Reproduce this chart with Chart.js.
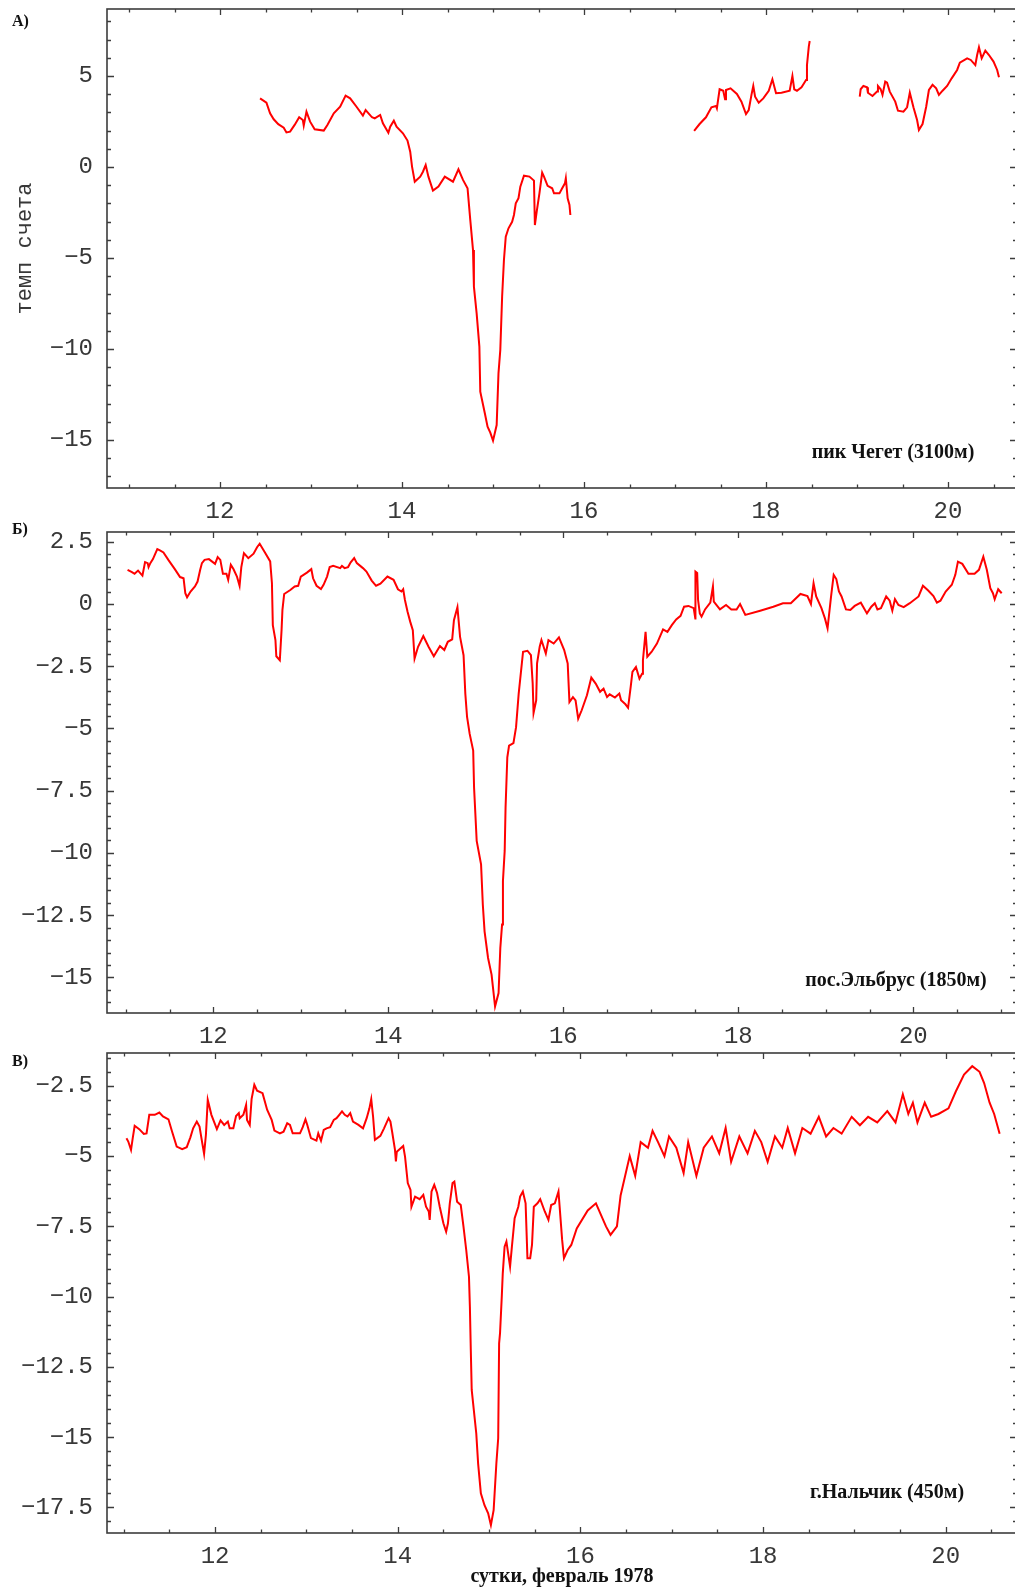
<!DOCTYPE html>
<html>
<head>
<meta charset="utf-8">
<title>Нейтронные мониторы, февраль 1978</title>
<script src="https://cdn.jsdelivr.net/npm/chart.js@4.4.1/dist/chart.umd.min.js"></script>
<style>
  html, body { margin: 0; padding: 0; overflow: hidden; background: #fff; }
  #wrap { position: relative; width: 1015px; height: 1589px; overflow: hidden; }
  canvas { position: absolute; left: 0; top: 0; }
</style>
</head>
<body>
<div id="wrap">
  <canvas id="chartA" width="1030" height="1589"></canvas>
  <canvas id="chartB" width="1030" height="1589"></canvas>
  <canvas id="chartC" width="1030" height="1589"></canvas>
</div>
<script>
// ---- data (day of February 1978, count rate variation %) ----
// A) пик Чегет, three pieces with gaps
var aDay1 = [12.44,12.51,12.55,12.59,12.64,12.70,12.73,12.77,12.82,12.87,12.91,12.92,12.95,12.99,13.04,13.14,13.18,13.25,13.32,13.38,13.43,13.50,13.57,13.60,13.67,13.70,13.76,13.79,13.85,13.87,13.91,13.94,14.01,14.06,14.09,14.11,14.14,14.20,14.23,14.26,14.29,14.34,14.40,14.47,14.56,14.62,14.67,14.72,14.75,14.78,14.79,14.82,14.85,14.86,14.91,14.94,14.97,15.00,15.04,15.06,15.08,15.10,15.12,15.14,15.17,15.21,15.23,15.25,15.28,15.30,15.34,15.40,15.45,15.46,15.48,15.51,15.54,15.56,15.60,15.65,15.67,15.73,15.76,15.79,15.80,15.82,15.84,15.85];
var aVal1 = [3.77,3.53,2.95,2.62,2.35,2.16,1.90,1.94,2.31,2.73,2.58,2.27,3.04,2.49,2.07,2.00,2.31,2.95,3.31,3.92,3.77,3.31,2.82,3.13,2.73,2.67,2.86,2.40,1.88,2.21,2.54,2.21,1.85,1.45,0.84,0.02,-0.81,-0.53,-0.26,0.11,-0.53,-1.30,-1.08,-0.53,-0.81,-0.13,-0.71,-1.17,-2.91,-4.56,-6.58,-8.04,-9.87,-12.35,-13.53,-14.27,-14.60,-15.04,-14.18,-11.34,-10.05,-7.13,-5.11,-3.83,-3.37,-3.01,-2.64,-2.00,-1.72,-1.08,-0.48,-0.53,-0.75,-3.19,-2.45,-1.45,-0.31,-0.53,-1.04,-1.17,-1.45,-1.45,-1.17,-0.90,-0.62,-1.72,-2.09,-2.64];
var aDay2 = [17.21,17.27,17.34,17.40,17.45,17.46,17.49,17.53,17.55,17.56,17.61,17.68,17.73,17.78,17.81,17.84,17.86,17.88,17.92,17.97,18.03,18.07,18.11,18.17,18.26,18.29,18.31,18.34,18.39,18.44,18.45,18.47,18.48];
var aVal2 = [1.98,2.36,2.73,3.28,3.35,3.22,4.27,4.19,3.72,4.23,4.32,4.01,3.59,2.91,3.13,3.96,4.45,3.86,3.53,3.77,4.19,4.82,4.05,4.08,4.19,5.00,4.27,4.19,4.38,4.78,5.60,6.61,6.92];
var aDay3 = [19.03,19.04,19.07,19.11,19.12,19.17,19.22,19.23,19.26,19.28,19.31,19.33,19.36,19.42,19.45,19.51,19.55,19.58,19.62,19.66,19.68,19.72,19.76,19.79,19.83,19.87,19.90,19.94,19.99,20.04,20.10,20.13,20.21,20.25,20.30,20.32,20.34,20.37,20.41,20.45,20.50,20.54,20.56];
var aVal3 = [3.86,4.27,4.45,4.38,4.08,3.90,4.14,4.45,4.27,3.96,4.69,4.63,4.14,3.59,3.09,3.04,3.28,4.08,3.28,2.58,2.03,2.36,3.31,4.23,4.51,4.32,3.96,4.19,4.45,4.87,5.33,5.73,5.97,5.88,5.60,6.15,6.58,5.97,6.39,6.15,5.79,5.33,4.93];

// Б) пос.Эльбрус
var bDay = [11.02,11.07,11.10,11.14,11.19,11.22,11.25,11.26,11.28,11.31,11.36,11.39,11.43,11.49,11.56,11.62,11.66,11.68,11.70,11.74,11.79,11.82,11.85,11.87,11.90,11.95,12.02,12.05,12.08,12.11,12.15,12.17,12.20,12.23,12.27,12.30,12.32,12.35,12.40,12.46,12.50,12.53,12.59,12.65,12.67,12.68,12.71,12.72,12.76,12.78,12.79,12.81,12.88,12.93,12.97,13.00,13.07,13.12,13.14,13.18,13.23,13.26,13.30,13.33,13.37,13.45,13.47,13.50,13.54,13.57,13.61,13.64,13.71,13.75,13.81,13.86,13.91,13.99,14.06,14.11,14.15,14.17,14.19,14.22,14.25,14.28,14.30,14.34,14.40,14.46,14.52,14.59,14.64,14.68,14.73,14.75,14.79,14.82,14.86,14.88,14.90,14.93,14.97,14.98,15.01,15.06,15.08,15.10,15.14,15.18,15.22,15.26,15.28,15.30,15.31,15.33,15.34,15.36,15.38,15.43,15.46,15.49,15.51,15.54,15.59,15.63,15.65,15.66,15.69,15.70,15.73,15.75,15.80,15.83,15.89,15.95,
  16.01,16.05,16.07,16.11,16.14,16.17,16.21,16.27,16.32,16.37,16.42,16.46,16.50,16.53,16.59,16.64,16.66,16.71,16.74,16.77,16.79,16.83,16.87,16.90,16.91,16.94,16.96,17.01,17.07,17.14,17.19,17.24,17.29,17.34,17.38,17.43,17.49,17.51,17.51,17.53,17.54,17.56,17.58,17.62,17.68,17.71,17.72,17.79,17.86,17.92,17.98,18.02,18.08,18.25,18.40,18.51,18.60,18.71,18.79,18.83,18.86,18.89,18.95,18.99,19.02,19.06,19.09,19.12,19.15,19.18,19.23,19.28,19.33,19.40,19.47,19.52,19.56,19.59,19.63,19.69,19.73,19.76,19.79,19.83,19.89,19.96,20.06,20.11,20.17,20.23,20.27,20.31,20.37,20.44,20.48,20.51,20.56,20.63,20.70,20.75,20.80,20.84,20.88,20.91,20.93,20.97,21.01];
var bVal = [1.37,1.28,1.21,1.34,1.14,1.68,1.64,1.48,1.64,1.80,2.20,2.15,2.07,1.75,1.40,1.08,1.03,0.43,0.27,0.50,0.70,0.90,1.37,1.64,1.77,1.80,1.61,1.88,1.77,1.21,1.21,0.97,1.57,1.40,1.10,0.73,1.48,2.04,1.84,2.02,2.28,2.42,2.07,1.71,0.83,-0.85,-1.45,-2.10,-2.26,-1.05,-0.24,0.40,0.56,0.70,0.73,1.10,1.26,1.40,1.03,0.73,0.60,0.77,1.10,1.48,1.53,1.44,1.53,1.44,1.48,1.67,1.84,1.64,1.44,1.30,0.94,0.73,0.81,1.10,0.97,0.59,0.50,0.59,0.16,-0.31,-0.71,-1.05,-2.19,-1.72,-1.29,-1.72,-2.10,-1.69,-1.85,-1.52,-1.42,-0.65,-0.13,-1.32,-2.06,-3.60,-4.54,-5.22,-5.89,-7.37,-9.52,-10.46,-12.07,-13.15,-14.22,-14.89,-16.17,-15.63,-13.82,-12.88,-11.13,-9.92,-8.17,-6.16,-5.69,-5.59,-4.95,-3.60,-2.93,-1.92,-1.88,-2.06,-3.20,-4.38,-3.87,-2.39,-1.72,-1.45,-1.99,-1.45,-1.59,-1.34,
  -1.85,-2.39,-3.94,-3.74,-3.87,-4.61,-4.27,-3.67,-2.96,-3.20,-3.53,-3.40,-3.74,-3.63,-3.76,-3.60,-3.87,-4.03,-4.17,-3.33,-2.73,-2.53,-3.00,-2.80,-2.26,-1.12,-2.12,-1.92,-1.59,-1.02,-1.12,-0.85,-0.62,-0.48,-0.11,-0.08,-0.17,-0.62,1.30,1.24,0.16,-0.38,-0.51,-0.22,0.05,0.70,0.09,-0.22,-0.04,-0.22,-0.22,0.00,-0.44,-0.27,-0.11,0.03,0.03,0.40,0.32,0.00,0.83,0.30,-0.17,-0.58,-0.98,0.30,1.17,1.00,0.50,0.30,-0.22,-0.24,-0.08,0.05,-0.38,-0.11,0.03,-0.22,-0.17,0.30,0.13,-0.27,0.19,-0.04,-0.13,0.03,0.30,0.73,0.54,0.32,0.05,0.13,0.50,0.77,1.17,1.70,1.61,1.21,1.21,1.37,1.90,1.37,0.63,0.43,0.19,0.59,0.43];

// В) г.Нальчик
var cDay = [11.03,11.05,11.08,11.10,11.12,11.17,11.22,11.25,11.28,11.34,11.39,11.43,11.49,11.53,11.58,11.64,11.69,11.73,11.76,11.80,11.83,11.86,11.88,11.90,11.92,11.96,12.02,12.06,12.10,12.14,12.16,12.20,12.23,12.26,12.27,12.31,12.34,12.35,12.38,12.40,12.43,12.46,12.52,12.57,12.62,12.65,12.71,12.75,12.79,12.82,12.85,12.93,12.96,12.99,13.01,13.05,13.11,13.13,13.16,13.19,13.22,13.26,13.30,13.33,13.36,13.39,13.42,13.45,13.48,13.51,13.57,13.62,13.66,13.69,13.71,13.73,13.75,13.81,13.85,13.90,13.92,13.94,13.97,13.98,13.99,14.06,14.08,14.11,14.14,14.15,14.19,14.24,14.28,14.31,14.34,14.35,14.37,14.40,14.43,14.46,14.50,14.53,14.55,14.57,14.60,14.62,14.65,14.69,14.72,14.75,14.78,14.79,14.80,14.81,14.86,14.88,14.91,14.95,14.99,15.02,15.05,15.08,15.10,15.11,15.12,15.14,15.15,15.17,15.19,15.23,15.25,15.28,15.32,15.34,15.37,15.40,15.42,15.45,15.47,15.49,15.53,15.56,15.61,15.65,15.68,15.72,15.76,15.80,15.82,15.86,15.90,15.96,
  16.08,16.17,16.28,16.33,16.40,16.44,16.49,16.54,16.60,16.66,16.74,16.79,16.85,16.92,16.97,17.05,17.13,17.18,17.27,17.35,17.44,17.52,17.59,17.65,17.74,17.83,17.91,17.98,18.05,18.13,18.21,18.27,18.35,18.43,18.52,18.61,18.69,18.77,18.86,18.97,19.06,19.15,19.25,19.36,19.45,19.53,19.59,19.64,19.69,19.77,19.84,19.92,20.03,20.11,20.20,20.29,20.37,20.42,20.48,20.53,20.59];
var cVal = [-4.36,-4.48,-4.78,-4.33,-3.92,-4.04,-4.21,-4.19,-3.53,-3.53,-3.45,-3.59,-3.69,-4.13,-4.66,-4.75,-4.68,-4.33,-4.01,-3.77,-3.95,-4.54,-4.92,-4.24,-3.00,-3.53,-4.04,-3.73,-3.89,-3.77,-4.01,-4.01,-3.57,-3.47,-3.65,-3.53,-3.18,-3.71,-3.89,-2.97,-2.46,-2.67,-2.76,-3.35,-3.71,-4.09,-4.19,-4.13,-3.83,-3.89,-4.19,-4.19,-3.97,-3.69,-3.89,-4.36,-4.45,-4.19,-4.45,-4.07,-4.01,-3.97,-3.71,-3.65,-3.53,-3.41,-3.53,-3.59,-3.47,-3.77,-3.89,-4.01,-3.65,-3.30,-2.97,-3.59,-4.42,-4.28,-4.01,-3.65,-3.77,-4.16,-4.78,-5.19,-4.84,-4.64,-5.02,-5.96,-6.20,-6.80,-6.44,-6.53,-6.38,-6.80,-6.97,-7.27,-6.26,-6.02,-6.30,-6.80,-7.39,-7.69,-7.39,-6.68,-5.96,-5.91,-6.62,-6.74,-7.51,-8.34,-9.29,-10.36,-11.90,-13.32,-14.87,-15.93,-17.00,-17.42,-17.71,-18.13,-17.60,-15.93,-15.04,-11.66,-11.30,-9.94,-9.17,-8.22,-8.04,-8.93,-8.22,-7.21,-6.80,-6.44,-6.26,-6.68,-8.63,-8.63,-8.16,-6.80,-6.68,-6.53,-6.97,-7.27,-6.74,-6.68,-6.26,-7.98,-8.63,-8.34,-8.16,-7.57,
  -6.93,-6.68,-7.5,-7.8,-7.5,-6.4,-5.7,-5.0,-5.7,-4.5,-4.7,-4.1,-4.5,-5.0,-4.3,-4.7,-5.6,-4.5,-5.7,-4.7,-4.3,-4.9,-4.0,-5.2,-4.3,-4.9,-4.1,-4.5,-5.2,-4.3,-4.7,-4.0,-4.9,-4.0,-4.2,-3.6,-4.3,-4.0,-4.2,-3.6,-3.9,-3.6,-3.8,-3.4,-3.8,-2.8,-3.5,-3.1,-3.8,-3.1,-3.6,-3.5,-3.3,-2.7,-2.1,-1.8,-2.0,-2.4,-3.1,-3.5,-4.2];

// tick labels
var xTickLabels = [12, 14, 16, 18, 20];
var aYTickLabels = [5, 0, -5, -10, -15];
var bYTickLabels = [2.5, 0, -2.5, -5, -7.5, -10, -12.5, -15];
var cYTickLabels = [-2.5, -5, -7.5, -10, -12.5, -15, -17.5];

// ---- helpers ----
var MONO = '"Liberation Mono", "DejaVu Sans Mono", monospace';
var SERIF = '"Liberation Serif", "DejaVu Serif", serif';

function pts(days, vals) {
  return days.map(function (d, i) { return {x: d, y: vals[i]}; });
}
function near(list, v) {
  for (var i = 0; i < list.length; i++) if (Math.abs(list[i] - v) < 1e-6) return list[i];
  return null;
}
function fmt(v) {
  return String(v).replace('-', '\u2212');
}
function stepTicks(scale, step) {
  var out = [];
  for (var k = Math.ceil(scale.min / step - 1e-9); k * step <= scale.max + 1e-9; k++) {
    out.push({value: +(k * step).toFixed(6)});
  }
  scale.ticks = out;
}

// frame with inward tick marks on all four sides
var frameTicks = {
  id: 'frameTicks',
  afterDraw: function (chart, args, opts) {
    var ctx = chart.ctx, a = chart.chartArea, sx = chart.scales.x, sy = chart.scales.y;
    ctx.save();
    ctx.strokeStyle = '#3c3c3c';
    ctx.lineWidth = 1.6;
    ctx.strokeRect(a.left, a.top, a.right - a.left, a.bottom - a.top);
    ctx.lineWidth = 1.3;
    ctx.beginPath();
    sx.ticks.forEach(function (t) {
      var x = Math.round(sx.getPixelForValue(t.value)) + 0.5;
      var len = near(opts.xMajor, t.value) !== null ? 6 : 3.5;
      ctx.moveTo(x, a.bottom); ctx.lineTo(x, a.bottom - len);
      ctx.moveTo(x, a.top); ctx.lineTo(x, a.top + len);
    });
    sy.ticks.forEach(function (t) {
      var y = Math.round(sy.getPixelForValue(t.value)) + 0.5;
      var len = near(opts.yMajor, t.value) !== null ? 7 : 4;
      ctx.moveTo(a.left, y); ctx.lineTo(a.left + len, y);
      ctx.moveTo(a.right, y); ctx.lineTo(a.right - len, y);
    });
    ctx.stroke();
    ctx.restore();
  }
};

// panel letters and station names
var notes = {
  id: 'notes',
  afterDraw: function (chart, args, opts) {
    var ctx = chart.ctx;
    ctx.save();
    ctx.fillStyle = '#111';
    ctx.textBaseline = 'middle';
    (opts.items || []).forEach(function (it) {
      ctx.font = it.font;
      ctx.textAlign = it.align;
      ctx.fillText(it.text, it.x, it.y);
    });
    ctx.restore();
  }
};

function makePanel(id, p) {
  var datasets = p.series.map(function (s) {
    return {
      data: s,
      borderColor: '#ff0000',
      borderWidth: 2,
      pointRadius: 0,
      tension: 0,
      fill: false
    };
  });
  return new Chart(document.getElementById(id), {
    type: 'line',
    data: {datasets: datasets},
    plugins: [frameTicks, notes],
    options: {
      responsive: false,
      animation: false,
      devicePixelRatio: 1,
      layout: {padding: {top: p.top, right: 13, bottom: 0, left: 0}},
      plugins: {
        legend: {display: false},
        tooltip: {enabled: false},
        frameTicks: {xMajor: xTickLabels, yMajor: p.yLabels},
        notes: {items: p.notes}
      },
      scales: {
        x: {
          type: 'linear',
          bounds: 'data',
          min: p.xMin, max: p.xMax,
          grid: {display: false, drawTicks: false},
          border: {display: false},
          afterBuildTicks: function (s) { stepTicks(s, 0.5); },
          afterFit: function (s) {
            s.height = 1589 - p.bottom;
            s.paddingLeft = 0; s.paddingRight = 0;
          },
          ticks: {
            autoSkip: false, maxRotation: 0, padding: 9,
            color: '#383838', font: {family: MONO, size: 24},
            callback: function (v) { var l = near(xTickLabels, v); return l === null ? '' : fmt(l); }
          },
          title: p.xTitle ? {
            display: true, text: p.xTitle, color: '#111',
            font: {family: SERIF, size: 20, weight: 'bold'},
            padding: {top: 0, bottom: 0}
          } : {display: false}
        },
        y: {
          type: 'linear',
          bounds: 'data',
          min: p.yMin, max: p.yMax,
          grid: {display: false, drawTicks: false},
          border: {display: false},
          afterBuildTicks: function (s) { stepTicks(s, p.yStep); },
          afterFit: function (s) {
            s.width = 107;
            s.paddingTop = 0; s.paddingBottom = 0;
          },
          ticks: {
            autoSkip: false, padding: 14,
            color: '#383838', font: {family: MONO, size: 24},
            callback: function (v) { var l = near(p.yLabels, v); return l === null ? '' : fmt(l); }
          },
          title: p.yTitle ? {
            display: true, text: p.yTitle, color: '#383838',
            font: {family: MONO, size: 22},
            padding: {top: 12, bottom: 0}
          } : {display: false}
        }
      }
    }
  });
}

makePanel('chartA', {
  series: [pts(aDay1, aVal1), pts(aDay2, aVal2), pts(aDay3, aVal3)],
  top: 9, bottom: 488,
  xMin: 10.758, xMax: 20.758,
  yMin: -17.64, yMax: 8.68, yStep: 1,
  yLabels: aYTickLabels,
  yTitle: 'темп счета',
  notes: [
    {text: 'А)', x: 12, y: 22, font: 'bold 16px ' + SERIF, align: 'left'},
    {text: 'пик Чегет (3100м)', x: 893, y: 453, font: 'bold 20px ' + SERIF, align: 'center'}
  ]
});

makePanel('chartB', {
  series: [pts(bDay, bVal)],
  top: 532, bottom: 1013,
  xMin: 10.785, xMax: 21.185,
  yMin: -16.43, yMax: 2.89, yStep: 0.5,
  yLabels: bYTickLabels,
  notes: [
    {text: 'Б)', x: 12, y: 530, font: 'bold 16px ' + SERIF, align: 'left'},
    {text: 'пос.Эльбрус (1850м)', x: 896, y: 981, font: 'bold 20px ' + SERIF, align: 'center'}
  ]
});

makePanel('chartC', {
  series: [pts(cDay, cVal)],
  top: 1053, bottom: 1533,
  xMin: 10.817, xMax: 20.78,
  yMin: -18.41, yMax: -1.33, yStep: 0.5,
  yLabels: cYTickLabels,
  xTitle: 'сутки, февраль 1978',
  notes: [
    {text: 'В)', x: 12, y: 1062, font: 'bold 16px ' + SERIF, align: 'left'},
    {text: 'г.Нальчик (450м)', x: 887, y: 1493, font: 'bold 20px ' + SERIF, align: 'center'}
  ]
});
</script>
</body>
</html>
